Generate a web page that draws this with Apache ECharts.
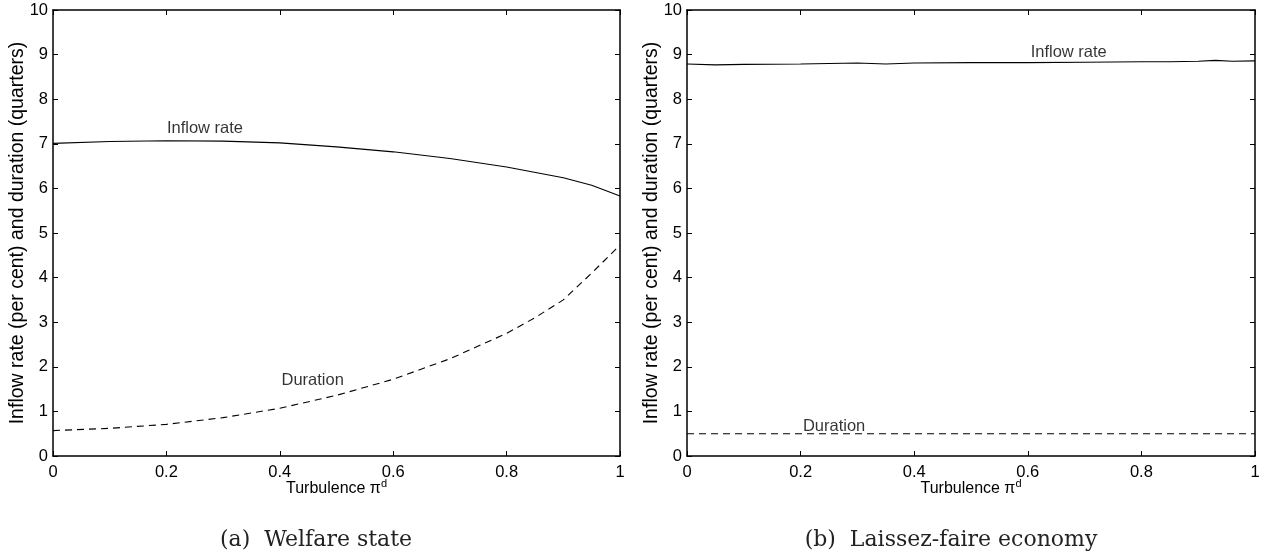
<!DOCTYPE html>
<html>
<head>
<meta charset="utf-8">
<script src="https://cdn.jsdelivr.net/npm/echarts@6/dist/echarts.min.js"></script>
<style>
  html, body { margin: 0; padding: 0; background: #fff; }
  #chart { width: 1265px; height: 559px; }
</style>
</head>
<body>
<div id="chart"></div>
<script>
// Turbulence values and outcomes, panel (a): welfare state
const welfareInflowT = [0, 0.1, 0.2, 0.3, 0.4, 0.5, 0.6, 0.7, 0.8, 0.9, 0.95, 1];
const welfareInflow = [7.01, 7.05, 7.07, 7.06, 7.02, 6.93, 6.82, 6.67, 6.48, 6.24, 6.07, 5.83];
const welfareDurationT = [0, 0.1, 0.2, 0.3, 0.4, 0.5, 0.6, 0.7, 0.8, 0.85, 0.9, 0.95, 1];
const welfareDuration = [0.57, 0.62, 0.71, 0.86, 1.07, 1.36, 1.72, 2.18, 2.75, 3.1, 3.5, 4.1, 4.73];

// Panel (b): laissez-faire economy
const lfInflowT = [0, 0.05, 0.1, 0.2, 0.3, 0.35, 0.4, 0.5, 0.6, 0.7, 0.8, 0.85, 0.9, 0.93, 0.96, 1];
const lfInflow = [8.79, 8.77, 8.78, 8.79, 8.81, 8.79, 8.81, 8.82, 8.82, 8.83, 8.84, 8.84, 8.85, 8.87, 8.85, 8.86];
const lfDurationT = [0, 0.25, 0.5, 0.75, 1];
const lfDuration = [0.5, 0.5, 0.5, 0.5, 0.5];

// In-plot curve labels: [panel, turbulence, value, text]
const curveLabels = [
  [0, 0.268, 7.35, 'Inflow rate'],
  [0, 0.458, 1.69, 'Duration'],
  [1, 0.672, 9.05, 'Inflow rate'],
  [1, 0.259, 0.66, 'Duration']
];

const xTicks = [0, 0.2, 0.4, 0.6, 0.8, 1];
const yTicks = [0, 1, 2, 3, 4, 5, 6, 7, 8, 9, 10];
const captions = ['(a)  Welfare state', '(b)  Laissez-faire economy'];
const yTitle = 'Inflow rate (per cent) and duration (quarters)';

const SANS = '"Liberation Sans", Arial, Helvetica, sans-serif';
const SERIF = '"DejaVu Serif", "Liberation Serif", serif';
const INK = '#000';

const zip = (xs, ys) => xs.map((x, i) => [x, ys[i]]);

const grids = [
  { left: 53, top: 10, width: 567, height: 446 },
  { left: 687, top: 10, width: 568, height: 446 }
];
// caption centres follow each sub-figure (plot plus its y title)
const captionCentres = [316, 951];

const axisLine = { show: true, onZero: false, lineStyle: { color: INK, width: 1.5 } };
const tick = { show: true, inside: true, length: 5, lineStyle: { color: INK, width: 1 } };

const xAxes = [];
const yAxes = [];
grids.forEach((g, gi) => {
  xAxes.push({
    type: 'value', gridIndex: gi, min: xTicks[0], max: xTicks[xTicks.length - 1],
    interval: xTicks[1] - xTicks[0], position: 'bottom',
    axisLine, axisTick: tick, splitLine: { show: false },
    axisLabel: { color: INK, fontFamily: SANS, fontSize: 16.5, margin: 8,
      formatter: v => String(+v.toFixed(1)) },
    name: '{t|Turbulence \u03c0}{s|d}', nameLocation: 'middle', nameGap: 22,
    nameMoveOverlap: false,
    nameTextStyle: {
      rich: {
        t: { color: INK, fontFamily: SANS, fontSize: 16 },
        s: { color: INK, fontFamily: SANS, fontSize: 11, padding: [0, 0, 10, 0] }
      }
    }
  });
  xAxes.push({
    type: 'value', gridIndex: gi, min: xTicks[0], max: xTicks[xTicks.length - 1],
    interval: xTicks[1] - xTicks[0], position: 'top',
    axisLine, axisTick: tick, axisLabel: { show: false }, splitLine: { show: false }
  });
  yAxes.push({
    type: 'value', gridIndex: gi, min: yTicks[0], max: yTicks[yTicks.length - 1],
    interval: 1, position: 'left',
    axisLine, axisTick: tick, splitLine: { show: false },
    axisLabel: { color: INK, fontFamily: SANS, fontSize: 16.5, margin: 5 },
    name: yTitle, nameLocation: 'middle', nameGap: 25, nameRotate: 90,
    nameMoveOverlap: false,
    nameTextStyle: { color: INK, fontFamily: SANS, fontSize: 19.5 }
  });
  yAxes.push({
    type: 'value', gridIndex: gi, min: yTicks[0], max: yTicks[yTicks.length - 1],
    interval: 1, position: 'right',
    axisLine, axisTick: tick, axisLabel: { show: false }, splitLine: { show: false }
  });
});

function curve(gi, data, dashed) {
  return {
    type: 'line', xAxisIndex: gi * 2, yAxisIndex: gi * 2, data,
    symbol: 'none', smooth: false, silent: true,
    lineStyle: { color: INK, width: 1.1, type: dashed ? [7, 5] : 'solid' }
  };
}

const series = [
  curve(0, zip(welfareInflowT, welfareInflow), false),
  curve(0, zip(welfareDurationT, welfareDuration), true),
  curve(1, zip(lfInflowT, lfInflow), false),
  curve(1, zip(lfDurationT, lfDuration), true)
];

curveLabels.forEach(([gi, x, y, text]) => {
  series.push({
    type: 'scatter', xAxisIndex: gi * 2, yAxisIndex: gi * 2, silent: true,
    symbolSize: 0, data: [[x, y]],
    label: { show: true, position: 'inside', formatter: text,
      color: INK, fontFamily: SANS, fontSize: 16.5 }
  });
});

const graphic = captions.map((c, i) => ({
  type: 'text', x: captionCentres[i], y: 540,
  style: { text: c, fill: '#222', font: '22px ' + SERIF,
    align: 'center', verticalAlign: 'middle' }
}));

const chart = echarts.init(document.getElementById('chart'), null, { renderer: 'canvas' });
chart.setOption({
  animation: false,
  backgroundColor: '#fff',
  grid: grids,
  xAxis: xAxes,
  yAxis: yAxes,
  series,
  graphic
});
</script>
</body>
</html>
